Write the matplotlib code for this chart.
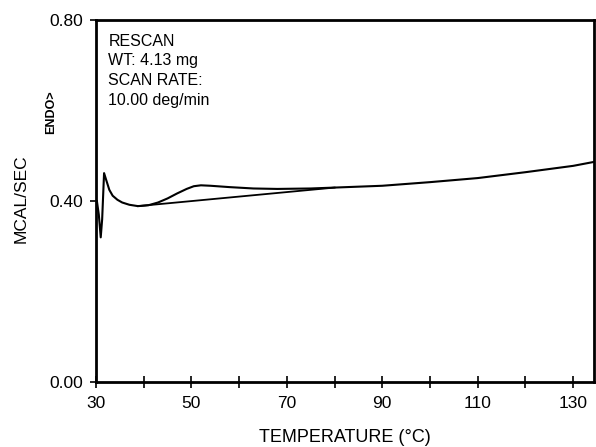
import numpy as np
import matplotlib.pyplot as plt

plt.rcParams['font.family'] = ['Liberation Sans', 'DejaVu Sans']

# DSC rescan trace
temp = [30.2, 30.6, 31.0, 31.3, 31.7, 32.2, 32.8, 33.5, 34.5, 35.5, 37.0, 38.8, 41.0,
        43.0, 45.0, 47.0, 49.0, 50.5, 52.0, 54.0, 58.0, 63.0, 68.0, 75.0, 80.0, 90.0,
        100.0, 110.0, 120.0, 130.0, 134.5]
mcal = [0.400, 0.370, 0.320, 0.360, 0.462, 0.445, 0.425, 0.412, 0.403, 0.397, 0.392, 0.389, 0.391,
        0.397, 0.406, 0.417, 0.427, 0.433, 0.435, 0.434, 0.431, 0.428, 0.427, 0.428, 0.430, 0.434,
        0.442, 0.451, 0.464, 0.478, 0.487]

# straight baseline under the transition
base_t = [38.8, 80.0]
base_y = [0.389, 0.430]

xticks = [30, 40, 50, 60, 70, 80, 90, 100, 110, 120, 130]
xlabels = ['30', '', '50', '', '70', '', '90', '', '110', '', '130']
yticks = [0.0, 0.4, 0.8]
ylabels = ['0.00', '0.40', '0.80']

fig = plt.figure(figsize=(5.96, 4.47), dpi=100)
ax = fig.add_axes([0.161, 0.145, 0.836, 0.81])

ax.plot(temp, mcal, color='black', lw=1.5)
ax.plot(base_t, base_y, color='black', lw=1.3)

ax.set_xlim(30, 134.4)
ax.set_ylim(0, 0.8)
ax.set_xticks(xticks)
ax.set_xticklabels(xlabels, fontsize=12.5)
ax.set_yticks(yticks)
ax.set_yticklabels(ylabels, fontsize=12.5)
ax.tick_params(axis='x', direction='inout', length=8, width=1.2, pad=6)
ax.tick_params(axis='y', direction='out', length=4, width=1.2, pad=5)
for s in ax.spines.values():
    s.set_linewidth(2)

ax.set_xlabel('TEMPERATURE (°C)', fontsize=13, labelpad=13)
fig.text(0.035, 0.555, 'MCAL/SEC', rotation=90, fontsize=12.5, ha='center', va='center')
fig.text(0.085, 0.749, 'ENDO>', rotation=90, fontsize=9, fontweight='bold',
         ha='center', va='center')

info = 'RESCAN\nWT: 4.13 mg\nSCAN RATE:\n10.00 deg/min'
ax.text(0.025, 0.962, info, transform=ax.transAxes, fontsize=11.5, va='top',
        ha='left', linespacing=1.38)

fig.savefig('out.png', dpi=100)
